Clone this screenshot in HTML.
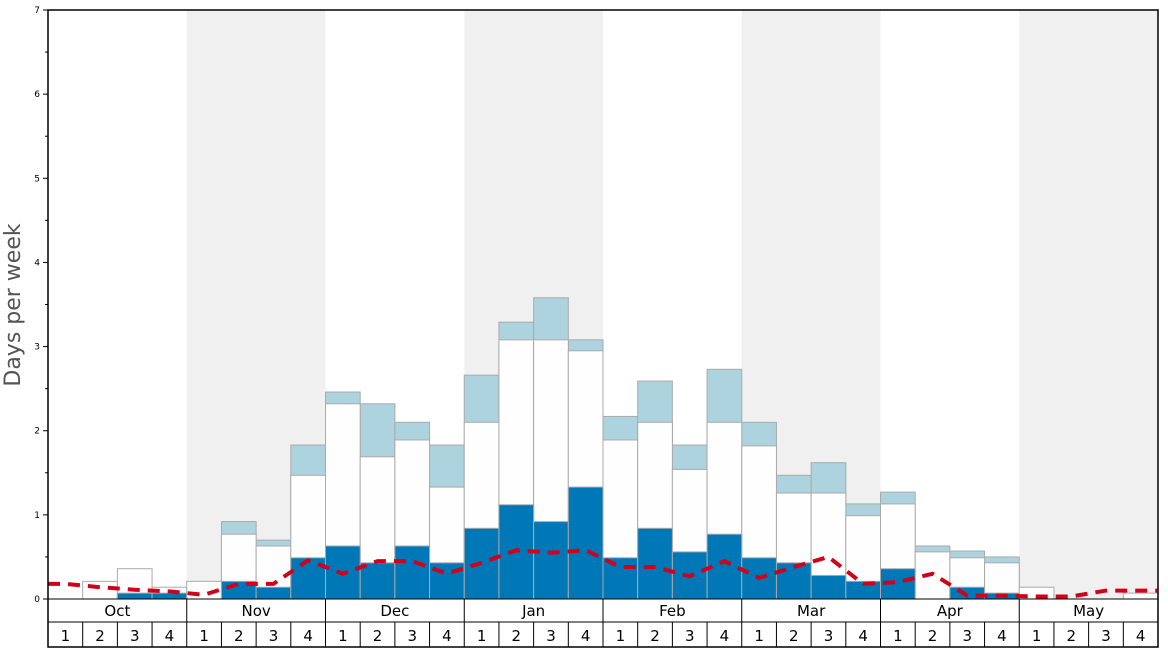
<!DOCTYPE html>
<html><head><meta charset="utf-8"><style>
body{margin:0;background:#fff;font-family:"Liberation Sans",sans-serif}
</style></head><body>
<svg id="chart" width="1168" height="648" xmlns="http://www.w3.org/2000/svg" font-family="DejaVu Sans, Liberation Sans, sans-serif"></svg>
<script>
const months=["Oct","Nov","Dec","Jan","Feb","Mar","Apr","May"];
const weekLabels=["1","2","3","4"];
const yTicks=[0,1,2,3,4,5,6,7];
const darkVals=[0,0,0.07,0.07, 0,0.21,0.14,0.49, 0.63,0.43,0.63,0.43, 0.84,1.12,0.92,1.33, 0.49,0.84,0.56,0.77, 0.49,0.43,0.28,0.21, 0.36,0,0.14,0.07, 0,0,0,0];
const whiteVals=[0,0.21,0.36,0.14, 0.21,0.77,0.63,1.47, 2.32,1.69,1.89,1.33, 2.10,3.08,3.08,2.95, 1.89,2.10,1.54,2.10, 1.82,1.26,1.26,0.99, 1.13,0.56,0.49,0.43, 0.14,0,0,0.07];
const lightVals=[0,0,0,0, 0,0.92,0.70,1.83, 2.46,2.32,2.10,1.83, 2.66,3.29,3.58,3.08, 2.17,2.59,1.83,2.73, 2.10,1.47,1.62,1.13, 1.27,0.63,0.57,0.50, 0,0,0,0];
const avgVals=[0.18,0.14,0.11,0.09, 0.05,0.18,0.18,0.46, 0.30,0.45,0.45,0.30, 0.43,0.58,0.55,0.58, 0.38,0.38,0.27,0.45, 0.25,0.38,0.50,0.18, 0.20,0.30,0.04,0.04, 0.03,0.03,0.10,0.10];

const svg=document.getElementById('chart');const NS="http://www.w3.org/2000/svg";
const L=48,R=1158,T=10,B=599;const n=darkVals.length;const bw=(R-L)/n;
const x=i=>L+i*bw;const y=v=>B-v*(B-T)/7;
function mk(tag,attrs,parent){const e=document.createElementNS(NS,tag);for(const k in attrs)e.setAttribute(k,attrs[k]);(parent||svg).appendChild(e);return e;}
// shading
months.forEach((m,i)=>{if(i%2==1){const r=mk('rect',{x:x(i*4),y:T,width:bw*4,height:B-T,fill:'#f0f0f0'});

}});
// bars
function bars(vals,fill,name){vals.forEach((v,i)=>{if(v<=0)return;const r=mk('rect',{x:x(i),y:y(v),width:bw,height:B-y(v),fill:fill,stroke:'#aaa','stroke-width':1});

});}
bars(lightVals,'#add3df','bar-light');
bars(whiteVals,'#fefefe','bar-white');
bars(darkVals,'#0077b6','bar-dark');
// avg line
let d='M'+L+','+y(avgVals[0]);avgVals.forEach((v,i)=>{d+=' L'+(x(i)+bw/2)+','+y(v);});d+=' L'+R+','+y(avgVals[n-1]);
const p=mk('path',{d:d,fill:'none',stroke:'#d0021b','stroke-width':4,'stroke-dasharray':'12,8'});


// axes
const f=mk('rect',{x:L,y:T,width:R-L,height:647-T,fill:'none',stroke:'#000','stroke-width':1.5});


mk('line',{x1:L,y1:B,x2:R,y2:B,stroke:'#000','stroke-width':1});
mk('line',{x1:L,y1:622,x2:R,y2:622,stroke:'#000','stroke-width':1});
yTicks.forEach(t=>{mk('line',{x1:L-5,y1:y(t),x2:L,y2:y(t),stroke:'#000'});
if(t<7)mk('line',{x1:L-3,y1:y(t+0.5),x2:L,y2:y(t+0.5),stroke:'#000'});
const tx=mk('text',{x:L-8,y:y(t)+3,'font-size':9,'text-anchor':'end',fill:'#000'});tx.textContent=t;

});
months.forEach((m,i)=>{mk('line',{x1:x(i*4),y1:B,x2:x(i*4),y2:647,stroke:'#000'});
const tx=mk('text',{x:x(i*4)+bw*2,y:616,'font-size':15,'text-anchor':'middle',fill:'#000'});tx.textContent=m;


weekLabels.forEach((w,j)=>{const k=i*4+j;if(j>0)mk('line',{x1:x(k),y1:622,x2:x(k),y2:647,stroke:'#000'});
const wt=mk('text',{x:x(k)+bw/2,y:641,'font-size':15,'text-anchor':'middle',fill:'#000'});wt.textContent=w;

});});
const yt=mk('text',{x:0,y:0,'font-size':22,'text-anchor':'middle',fill:'#555',transform:'translate(20,305) rotate(-90)'});yt.textContent='Days per week';


</script>
</body></html>
